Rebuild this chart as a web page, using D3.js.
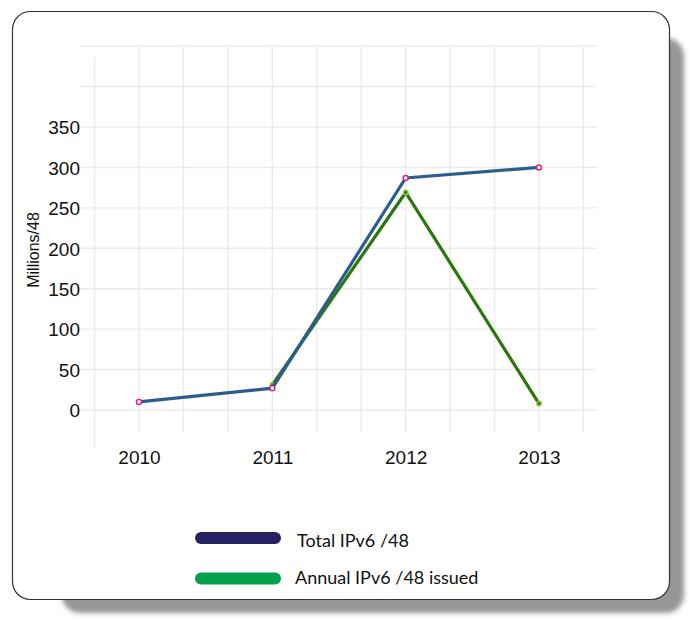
<!DOCTYPE html>
<html><head><meta charset="utf-8">
<script src="https://cdn.jsdelivr.net/npm/d3@7"></script>
<style>html,body{margin:0;padding:0;background:#fff;}svg{display:block;}</style>
</head><body>
<svg id="chart" width="690" height="619"></svg>
<script>
const years = [2010, 2011, 2012, 2013];
const totalIPv6 = [10, 27, 287, 300];
const annualIPv6 = [null, 31, 269, 8];
const yTicks = [0, 50, 100, 150, 200, 250, 300, 350];
const yGrid = [0, 50, 100, 150, 200, 250, 300, 350, 400, 450];
const seriesNames = ["Total IPv6 /48", "Annual IPv6 /48 issued"];
const yLabel = "Millions/48";

const svg = d3.select("#chart");
const defs = svg.append("defs");
defs.append("filter").attr("id","blur").attr("x","-10%").attr("y","-10%").attr("width","120%").attr("height","120%")
  .append("feGaussianBlur").attr("stdDeviation", 2.5);

// shadow + card
svg.append("rect").attr("x", 62).attr("y", 38).attr("width", 622).attr("height", 575)
  .attr("rx", 18).attr("fill", "#969696").attr("filter", "url(#blur)");
svg.append("rect").attr("x", 12.5).attr("y", 11.5).attr("width", 657).attr("height", 588)
  .attr("rx", 18).attr("fill", "#fff").attr("stroke", "#333").attr("stroke-width", 1.2);

const x = d3.scaleLinear().domain([2010, 2013]).range([139, 539]);
const y = d3.scaleLinear().domain([0, 350]).range([410, 127]);

const g = svg.append("g");
// vertical grid every 1/3 year
const vTicks = d3.range(0, 12).map(i => 2009 + 2/3 + i/3);
g.selectAll(".vg").data(vTicks).join("line")
  .attr("x1", d => x(d)).attr("x2", d => x(d))
  .attr("y1", (d,i) => i === 0 ? 57 : y(450))
  .attr("y2", (d,i) => i === 0 ? 449 : 433)
  .attr("stroke", "#ebebeb").attr("stroke-width", 1.4);
g.selectAll(".hg").data(yGrid).join("line")
  .attr("x1", 80).attr("x2", 597)
  .attr("y1", d => y(d)).attr("y2", d => y(d))
  .attr("stroke", "#ebebeb").attr("stroke-width", 1.4);

// axes (text only)
const yAxis = d3.axisLeft(y).tickValues(yTicks).tickSize(0).tickPadding(0);
const ya = svg.append("g").attr("transform", "translate(80,0)").call(yAxis);
ya.select(".domain").remove();
ya.selectAll("text").attr("font-family", "Liberation Sans, Arial, sans-serif")
  .attr("font-size", 19).attr("fill", "#111").attr("dy", "0.36em");

const xAxis = d3.axisBottom(x).tickValues(years).tickFormat(d3.format("d")).tickSize(0).tickPadding(0);
const xa = svg.append("g").attr("transform", "translate(0,451)").call(xAxis);
xa.select(".domain").remove();
xa.selectAll("text").attr("font-family", "Liberation Sans, Arial, sans-serif")
  .attr("font-size", 19).attr("fill", "#111").attr("dy", "0.7em");

svg.append("text").attr("transform", "translate(39,250) rotate(-90)")
  .attr("text-anchor", "middle").attr("font-family", "Liberation Sans, Arial, sans-serif")
  .attr("font-size", 16).attr("fill", "#111").text(yLabel);

// lines
const line = d3.line().defined(d => d.v != null).x(d => x(d.yr)).y(d => y(d.v));
const annData = years.map((yr, i) => ({yr, v: annualIPv6[i]}));
const totData = years.map((yr, i) => ({yr, v: totalIPv6[i]}));

svg.append("path").datum(annData).attr("d", line).attr("fill", "none")
  .attr("stroke", "#2a780b").attr("stroke-width", 3.2).attr("stroke-linejoin", "miter");
svg.selectAll(".ap").data(annData.filter(d => d.v != null)).join("circle")
  .attr("cx", d => x(d.yr)).attr("cy", d => y(d.v)).attr("r", 2.4)
  .attr("fill", "#3d7f12").attr("stroke", "#9ccc4e").attr("stroke-width", 1.3);

svg.append("path").datum(totData).attr("d", line).attr("fill", "none")
  .attr("stroke", "#2c5d8e").attr("stroke-width", 3.2).attr("stroke-linejoin", "miter");
svg.selectAll(".tp").data(totData).join("circle")
  .attr("cx", d => x(d.yr)).attr("cy", d => y(d.v)).attr("r", 2.5)
  .attr("fill", "#fff").attr("stroke", "#e3187e").attr("stroke-width", 1.4);

// legend
const legColors = ["#262262", "#00a14b"];
const legY = [538, 578.5];
const legTextY = [547, 584];
const leg = svg.selectAll(".leg").data(seriesNames).join("g");
leg.append("line").attr("x1", 201).attr("x2", 275)
  .attr("y1", (d,i) => legY[i]).attr("y2", (d,i) => legY[i])
  .attr("stroke", (d,i) => legColors[i]).attr("stroke-width", 12).attr("stroke-linecap", "round");
leg.append("text").attr("x", (d,i) => i === 0 ? 297 : 295).attr("y", (d,i) => legTextY[i])
  .attr("font-family", "Lato, sans-serif").attr("font-size", 18)
  .attr("fill", "#111").text(d => d);
</script>
</body></html>
